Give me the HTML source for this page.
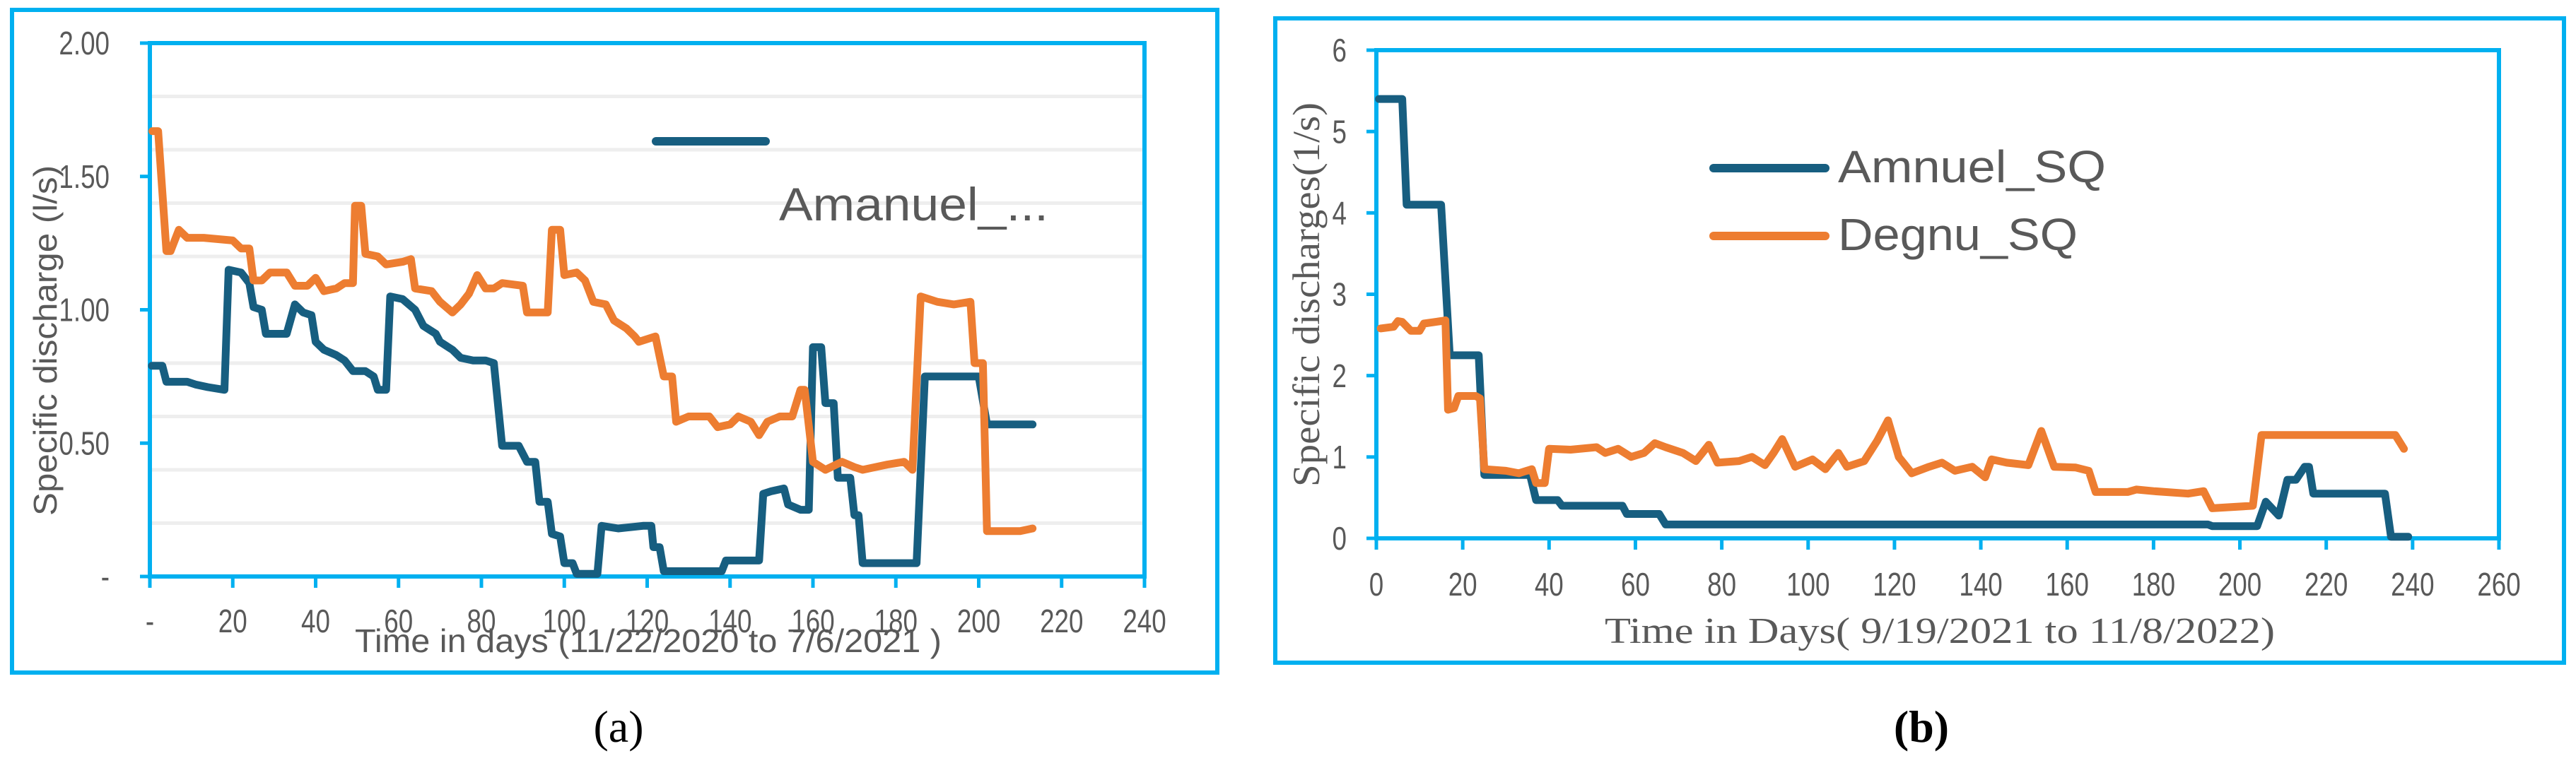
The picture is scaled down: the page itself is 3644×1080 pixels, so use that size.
<!DOCTYPE html>
<html><head><meta charset="utf-8"><style>
html,body{margin:0;padding:0;background:#fff;}
svg{display:block;}
.t{font-family:"Liberation Sans Narrow","Liberation Sans",sans-serif;fill:#595959;}
.s{font-family:"Liberation Serif",serif;fill:#595959;}
</style></head><body>
<svg id="fig" width="3644" height="1080" viewBox="0 0 3644 1080" xmlns="http://www.w3.org/2000/svg">
<rect x="0" y="0" width="3644" height="1080" fill="#fff"/>
<g id="pa"></g>
<g id="pb"></g>
</svg>
<script>
// ---------- Chart A data ----------
const aXTicks = [0,20,40,60,80,100,120,140,160,180,200,220,240];
const aXTickLabels = ["-","20","40","60","80","100","120","140","160","180","200","220","240"];
const aYTicks = [0,0.5,1,1.5,2];
const aYTickLabels = ["-","0.50","1.00","1.50","2.00"];
const aGrid = [0.2,0.4,0.6,0.8,1.2,1.4,1.6,1.8];
const aOrangeDays = [0.6,2,4,5,7,9,13,20,22,24,25,27,29,33,35,38,40,42,45,47,49,49.5,51,52,55,57,61,63,64,68,70,73,75,77,79,81,83,85,90,91,96,97,99,100,103,105,107,110,112,115,117,118,122,124,126,127,130,135,137,140,142,145,147,149,152,155,157,158,160,163,167,170,172,178,182,184,186,190,194,198,199,201,202,210,213];
const aOrangeVals = [1.67,1.67,1.22,1.22,1.30,1.27,1.27,1.26,1.23,1.23,1.11,1.11,1.14,1.14,1.09,1.09,1.12,1.07,1.08,1.10,1.10,1.39,1.39,1.21,1.20,1.17,1.18,1.19,1.08,1.07,1.03,0.99,1.02,1.06,1.13,1.08,1.08,1.10,1.09,0.99,0.99,1.30,1.30,1.13,1.14,1.11,1.03,1.02,0.96,0.93,0.90,0.88,0.90,0.75,0.75,0.58,0.60,0.60,0.56,0.57,0.60,0.58,0.53,0.58,0.60,0.60,0.70,0.70,0.43,0.40,0.43,0.41,0.40,0.42,0.43,0.40,1.05,1.03,1.02,1.03,0.80,0.80,0.17,0.17,0.18];
const aBlueDays = [0.5,3,4,9,11,14,18,19,22,24,25,27,28,33,35,37,39,40,42,45,47,49,52,54,55,57,58,61,64,66,69,70,73,75,78,81,83,85,89,91,93,94,96,97,99,100,102,103,108,109,113,119,121,121.5,123,124,138,139,147,148,150,153,154,157,159,160,162,163,165,166,169,170,171,172,185,187,200,202,213];
const aBlueVals = [0.79,0.79,0.73,0.73,0.72,0.71,0.70,1.15,1.14,1.10,1.01,1.00,0.91,0.91,1.02,0.99,0.98,0.88,0.85,0.83,0.81,0.77,0.77,0.75,0.70,0.70,1.05,1.04,1.00,0.94,0.91,0.88,0.85,0.82,0.81,0.81,0.80,0.49,0.49,0.43,0.43,0.28,0.28,0.16,0.15,0.05,0.05,0.01,0.01,0.19,0.18,0.19,0.19,0.11,0.11,0.02,0.02,0.06,0.06,0.31,0.32,0.33,0.27,0.25,0.25,0.86,0.86,0.65,0.65,0.37,0.37,0.23,0.23,0.05,0.05,0.75,0.75,0.57,0.57];

// ---------- Chart B data ----------
const bXTicks = [0,20,40,60,80,100,120,140,160,180,200,220,240,260];
const bXTickLabels = ["0","20","40","60","80","100","120","140","160","180","200","220","240","260"];
const bYTicks = [0,1,2,3,4,5,6];
const bYTickLabels = ["0","1","2","3","4","5","6"];
const bBlueDays = [0.6,6,7,15,17,23.7,25,35.6,37,42,43,57,58,65.5,67,192.6,193.6,204,206,209,211,213,215,216,217,233.6,235,239];
const bBlueVals = [5.40,5.40,4.10,4.10,2.25,2.25,0.78,0.78,0.47,0.47,0.40,0.40,0.30,0.30,0.17,0.17,0.15,0.15,0.45,0.28,0.72,0.72,0.88,0.88,0.55,0.55,0.02,0.02];
const bOrangeDays = [1,4,5,6,8,10,11,15,16,16.6,18,19,23,24,25,30,33,36,37,39,40,45,51,53,56,59,62,64.5,67,71,74,77,79,84,87,90,92,94,97,101,104,107,109,113,116,118.5,121,124,128,131,134,138,141,142.5,146,151,154,157,162,165,166.6,174,176,180,188,191.6,193.6,203,205,236,238];
const bOrangeVals = [2.58,2.60,2.67,2.66,2.55,2.55,2.64,2.67,2.68,1.58,1.60,1.75,1.75,1.72,0.85,0.83,0.80,0.85,0.68,0.68,1.10,1.09,1.12,1.05,1.10,1.00,1.05,1.17,1.12,1.05,0.95,1.15,0.93,0.95,1.00,0.90,1.05,1.22,0.88,0.97,0.85,1.05,0.88,0.95,1.20,1.45,1.00,0.80,0.88,0.93,0.83,0.88,0.75,0.97,0.93,0.90,1.32,0.88,0.87,0.83,0.57,0.57,0.60,0.58,0.55,0.58,0.37,0.40,1.27,1.27,1.10];

const NS="http://www.w3.org/2000/svg";
function mk(parent, tag, attrs, text){
  const e=document.createElementNS(NS,tag);
  for(const k in attrs) e.setAttribute(k, attrs[k]);
  if(text!==undefined) e.textContent=text;
  parent.appendChild(e); return e;
}
const CYAN="#00B0F0", BLUE="#175E80", ORANGE="#ED7D31";
const SQ=0.8; // horizontal condensation for narrow tick font

function drawChart(g, cfg){
  const sx = d => cfg.x0 + (d - cfg.xmin)/(cfg.xmax-cfg.xmin)*(cfg.x1-cfg.x0);
  const sy = v => cfg.y0 - (v - cfg.ymin)/(cfg.ymax-cfg.ymin)*(cfg.y0-cfg.y1);
  const ob = mk(g,'rect',{x:cfg.box[0],y:cfg.box[1],width:cfg.box[2],height:cfg.box[3],fill:'none',stroke:CYAN,'stroke-width':6});
   
  (cfg.grid||[]).forEach(v=>{
    const l=mk(g,'line',{x1:cfg.x0,x2:cfg.x1,y1:sy(v),y2:sy(v),stroke:'#EEEEEE','stroke-width':5});
     
  });
  const pa=mk(g,'rect',{x:cfg.x0,y:cfg.y1,width:cfg.x1-cfg.x0,height:cfg.y0-cfg.y1,fill:'none',stroke:CYAN,'stroke-width':6});
   
  cfg.xTicks.forEach((t,i)=>{
    const x=sx(t);
    const tk=mk(g,'line',{x1:x,x2:x,y1:cfg.y0,y2:cfg.y0+16,stroke:CYAN,'stroke-width':5});
     
    const tl=mk(g,'text',{x:0,y:0,'text-anchor':'middle','font-size':cfg.tickFs,class:'t',transform:`translate(${x},${cfg.xLabY}) scale(${SQ},1)`},cfg.xLabels[i]);
     
  });
  cfg.yTicks.forEach((t,i)=>{
    const y=sy(t);
    const tk=mk(g,'line',{x1:cfg.x0-14,x2:cfg.x0,y1:y,y2:y,stroke:CYAN,'stroke-width':5});
     
    const tl=mk(g,'text',{x:0,y:0,'text-anchor':'end','font-size':cfg.tickFs,class:'t',transform:`translate(${cfg.yLabX},${y+cfg.tickFs*0.35}) scale(${SQ},1)`},cfg.yLabels[i]);
     
  });
  cfg.series.forEach(s=>{
    let d='';
    s.days.forEach((day,i)=>{ d+=(i?'L':'M')+sx(day).toFixed(1)+' '+sy(s.vals[i]).toFixed(1); });
    const p=mk(g,'path',{d:d,fill:'none',stroke:s.color,'stroke-width':11,'stroke-linejoin':'round','stroke-linecap':'round'});
     
  });
}

const ga=document.getElementById('pa');
drawChart(ga,{box:[17,14,1705,938],x0:212,x1:1619,y0:816,y1:61,xmin:0,xmax:240,ymin:0,ymax:2,
  grid:aGrid,xTicks:aXTicks,xLabels:aXTickLabels,yTicks:aYTicks,yLabels:aYTickLabels,xLabY:895,yLabX:155,tickFs:46,
  series:[{name:'amanuel-series',days:aBlueDays,vals:aBlueVals,color:BLUE},{name:'degnu-series',days:aOrangeDays,vals:aOrangeVals,color:ORANGE}]});
let e;
e=mk(ga,'text',{x:502,y:923,'font-size':46,class:'t',textLength:830,lengthAdjust:'spacingAndGlyphs'},'Time in days (11/22/2020  to 7/6/2021 )');
 
e=mk(ga,'text',{x:0,y:0,'font-size':46,class:'t',textLength:496,lengthAdjust:'spacingAndGlyphs',transform:'translate(80,730) rotate(-90)'},'Specific discharge (l/s)');
 
e=mk(ga,'line',{x1:928,x2:1083,y1:200,y2:200,stroke:BLUE,'stroke-width':12,'stroke-linecap':'round'});
 
e=mk(ga,'text',{x:1102,y:312,'font-size':66,class:'t',textLength:381,lengthAdjust:'spacingAndGlyphs'},'Amanuel_...');
 
e=mk(ga,'text',{x:875,y:1050,'text-anchor':'middle','font-size':64,style:'font-family:"Liberation Serif",serif',fill:'#000'},'(a)');
 

const gb=document.getElementById('pb');
drawChart(gb,{box:[1804,26,1823,912],x0:1947,x1:3535,y0:762,y1:71,xmin:0,xmax:260,ymin:0,ymax:6,
  grid:[],xTicks:bXTicks,xLabels:bXTickLabels,yTicks:bYTicks,yLabels:bYTickLabels,xLabY:843,yLabX:1905,tickFs:46,
  series:[{name:'amnuel-sq-series',days:bBlueDays,vals:bBlueVals,color:BLUE},{name:'degnu-sq-series',days:bOrangeDays,vals:bOrangeVals,color:ORANGE}]});
e=mk(gb,'text',{x:2270,y:910,'font-size':52,class:'s',textLength:948,lengthAdjust:'spacingAndGlyphs'},'Time in Days(  9/19/2021  to 11/8/2022)');
 
e=mk(gb,'text',{x:0,y:0,'font-size':54,class:'s',textLength:544,lengthAdjust:'spacingAndGlyphs',transform:'translate(1866,689) rotate(-90)'},'Specific discharges(1/s)');
 
e=mk(gb,'line',{x1:2424,x2:2582,y1:238,y2:238,stroke:BLUE,'stroke-width':12,'stroke-linecap':'round'});
 
e=mk(gb,'text',{x:2600,y:258,'font-size':64,class:'t',textLength:379,lengthAdjust:'spacingAndGlyphs'},'Amnuel_SQ');
 
e=mk(gb,'line',{x1:2424,x2:2582,y1:334,y2:334,stroke:ORANGE,'stroke-width':12,'stroke-linecap':'round'});
 
e=mk(gb,'text',{x:2600,y:354,'font-size':64,class:'t',textLength:339,lengthAdjust:'spacingAndGlyphs'},'Degnu_SQ');
 
e=mk(gb,'text',{x:2718,y:1050,'text-anchor':'middle','font-size':64,style:'font-family:"Liberation Serif",serif;font-weight:bold',fill:'#000'},'(b)');
 
</script>
</body></html>
